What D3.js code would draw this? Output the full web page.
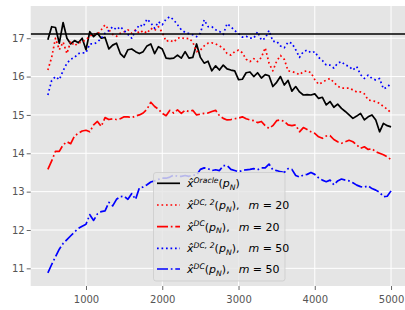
<!DOCTYPE html>
<html><head><meta charset="utf-8">
<script src="https://cdn.jsdelivr.net/npm/d3@7"></script>
<style>
html,body{margin:0;padding:0;background:#fff;}
svg{display:block;font-family:"DejaVu Sans",sans-serif;}
</style></head>
<body><svg id="chart" width="405" height="310"></svg>
<script>
const xs = [500,550,600,650,700,750,800,850,900,950,
 1000,1050,1100,1150,1200,1250,1300,1350,1400,1450,
 1500,1550,1600,1650,1700,1750,1800,1850,1900,1950,
 2000,2050,2100,2150,2200,2250,2300,2350,2400,2450,
 2500,2550,2600,2650,2700,2750,2800,2850,2900,2950,
 3000,3050,3100,3150,3200,3250,3300,3350,3400,3450,
 3500,3550,3600,3650,3700,3750,3800,3850,3900,3950,
 4000,4050,4100,4150,4200,4250,4300,4350,4400,4450,
 4500,4550,4600,4650,4700,4750,4800,4850,4900,4950,5000];

const oracle = [16.96,17.3,17.28,16.87,17.41,17.0,16.85,16.94,16.88,17.0,
 16.7,17.17,17.04,17.13,17.0,17.02,16.72,16.82,16.87,16.6,
 16.5,16.7,16.72,16.65,16.6,16.65,16.8,16.85,16.6,16.78,
 16.72,16.48,16.47,16.48,16.56,16.48,16.65,16.48,16.5,16.85,
 16.5,16.35,16.4,16.15,16.28,16.17,16.3,16.2,16.17,16.15,
 15.92,15.93,16.1,16.12,16.0,16.1,15.96,16.05,16.02,15.74,
 15.85,16.0,15.78,15.9,15.62,15.74,15.6,15.52,15.53,15.52,
 15.55,15.43,15.46,15.26,15.35,15.2,15.28,15.17,15.09,15.0,
 14.91,14.97,15.04,14.87,14.95,15.0,14.87,14.56,14.78,14.72,14.69];

const dc2m20 = [16.17,16.5,17.0,16.7,16.9,16.6,16.92,16.8,16.88,16.9,
 16.96,17.05,17.12,17.1,17.22,17.35,17.22,17.1,17.05,17.13,
 17.17,17.22,17.13,17.22,17.13,17.2,17.13,17.26,17.2,17.3,
 17.15,16.92,16.95,16.9,17.0,17.02,16.98,17.0,16.9,16.65,
 16.69,16.8,16.87,16.88,16.85,16.8,16.74,16.6,16.56,16.65,
 16.69,16.62,16.45,16.39,16.47,16.39,16.5,16.75,16.35,16.15,
 16.4,16.55,16.45,16.15,16.13,16.1,16.05,16.13,16.15,16.1,
 15.92,15.8,15.85,15.91,15.95,15.85,15.75,15.7,15.7,15.7,
 15.65,15.6,15.6,15.55,15.39,15.37,15.35,15.3,15.22,15.15,15.05];

const dcm20 = [13.58,13.8,14.05,14.05,14.22,14.3,14.25,14.45,14.52,14.58,
 14.6,14.56,14.74,14.83,14.7,14.93,14.88,14.9,14.88,14.9,
 14.95,14.95,14.93,14.97,15.0,15.05,15.15,15.33,15.22,15.15,
 15.04,14.98,15.12,15.05,15.13,15.04,15.12,15.09,15.12,15.0,
 15.02,15.04,15.05,15.09,15.12,14.98,14.91,14.87,14.88,14.9,
 14.92,14.95,14.9,14.87,14.85,14.8,14.83,14.72,14.65,14.72,
 14.85,14.87,14.83,14.74,14.72,14.74,14.56,14.67,14.62,14.56,
 14.52,14.43,14.39,14.45,14.46,14.36,14.3,14.26,14.3,14.34,
 14.3,14.22,14.13,14.17,14.1,14.12,14.04,14.0,13.96,13.91,13.83];

const dc2m50 = [15.52,15.9,16.0,15.92,16.15,16.35,16.45,16.5,16.6,16.62,
 16.62,16.85,16.85,16.9,17.0,17.13,17.2,17.3,17.22,17.3,
 17.2,17.1,17.0,17.2,17.35,17.3,17.5,17.4,17.26,17.43,
 17.35,17.5,17.56,17.48,17.35,17.22,17.15,17.12,17.09,17.04,
 17.13,17.48,17.3,17.3,17.22,17.18,17.1,17.38,17.3,17.2,
 17.12,17.03,17.05,17.0,17.0,17.17,16.95,17.0,17.2,16.92,
 16.92,16.8,16.75,16.9,16.87,16.7,16.5,16.65,16.69,16.62,
 16.65,16.5,16.42,16.3,16.3,16.22,16.35,16.39,16.3,16.27,
 16.17,16.26,16.05,15.95,16.04,15.95,15.91,15.95,15.68,15.72,15.83];

const dcm50 = [10.88,11.1,11.3,11.5,11.65,11.75,11.85,11.95,12.04,12.1,
 12.15,12.4,12.25,12.42,12.48,12.5,12.72,12.63,12.8,12.87,
 12.88,12.8,12.95,12.8,13.1,13.12,13.18,13.25,13.28,13.32,
 13.35,13.35,13.38,13.43,13.4,13.4,13.42,13.4,13.43,13.43,
 13.58,13.62,13.6,13.55,13.57,13.55,13.68,13.68,13.58,13.55,
 13.52,13.55,13.57,13.58,13.6,13.57,13.62,13.62,13.72,13.57,
 13.55,13.52,13.5,13.6,13.58,13.42,13.38,13.43,13.45,13.5,
 13.45,13.36,13.3,13.26,13.3,13.18,13.28,13.33,13.3,13.28,
 13.23,13.17,13.13,13.12,13.15,13.08,13.04,12.98,12.87,12.88,13.02];

const oracleLevel = 17.11;
const xTicks = [1000,2000,3000,4000,5000];
const yTicks = [11,12,13,14,15,16,17];
const seriesNames = ["oracle","dc2m20","dcm20","dc2m50","dcm50"];

const svg = d3.select("#chart");
const L = 30.7, R = 408.2, T = 6, B = 286;
const x = d3.scaleLinear().domain([275, 5225]).range([L, R]);
const y = d3.scaleLinear().domain([10.54, 17.84]).range([B, T]);

svg.append("defs").append("clipPath").attr("id","clip")
  .append("rect").attr("x",L).attr("y",T).attr("width",R-L).attr("height",B-T);

svg.append("rect").attr("x",L).attr("y",T).attr("width",R-L).attr("height",B-T).attr("fill","#e5e5e5");

// grid
const grid = svg.append("g");
grid.selectAll(".gx").data(xTicks).enter().append("line")
  .attr("x1",d=>x(d)).attr("x2",d=>x(d)).attr("y1",T).attr("y2",B)
  .attr("stroke","#fff").attr("stroke-width",1);
grid.selectAll(".gy").data(yTicks).enter().append("line")
  .attr("y1",d=>y(d)).attr("y2",d=>y(d)).attr("x1",L).attr("x2",R)
  .attr("stroke","#fff").attr("stroke-width",1);

// axes
const ax = svg.append("g").attr("transform",`translate(0,${B})`)
  .call(d3.axisBottom(x).tickValues(xTicks).tickSize(4).tickPadding(5.5).tickFormat(d3.format("d")));
const ay = svg.append("g").attr("transform",`translate(${L},0)`)
  .call(d3.axisLeft(y).tickValues(yTicks).tickSize(4).tickPadding(2).tickFormat(d3.format("d")));
[ax, ay].forEach(a => {
  a.select(".domain").remove();
  a.selectAll(".tick line").attr("stroke","#555").attr("stroke-width",0.9);
  a.selectAll(".tick text").attr("fill","#555").attr("font-size","10px")
    .attr("font-family","DejaVu Sans");
});

const styles = {
  oracle: {color:"#000", dash:null},
  dc2m20: {color:"#ff0000", dash:"1.7,2.8"},
  dcm20:  {color:"#ff0000", dash:"11,2.8,1.7,2.8"},
  dc2m50: {color:"#0000ff", dash:"1.7,2.8"},
  dcm50:  {color:"#0000ff", dash:"11,2.8,1.7,2.8"}
};
const data = {oracle, dc2m20, dcm20, dc2m50, dcm50};
const line = d3.line().x(d=>x(d[0])).y(d=>y(d[1]));
const plot = svg.append("g").attr("clip-path","url(#clip)");
seriesNames.forEach(k => {
  const s = styles[k];
  plot.append("path").datum(xs.map((v,i)=>[v,data[k][i]]))
    .attr("d",line).attr("fill","none").attr("stroke",s.color)
    .attr("stroke-width",1.7).attr("stroke-dasharray",s.dash)
    .attr("stroke-linejoin","round");
});
plot.append("line").attr("x1",L).attr("x2",R).attr("y1",y(oracleLevel)).attr("y2",y(oracleLevel))
  .attr("stroke","#000").attr("stroke-width",1.7);

// legend
const lg = svg.append("g");
lg.append("rect").attr("x",153.5).attr("y",172.5).attr("width",131.5).attr("height",108.5)
  .attr("rx",2.5).attr("fill","#e5e5e5").attr("fill-opacity",0.8)
  .attr("stroke","#cccccc").attr("stroke-opacity",0.8).attr("stroke-width",1);

const labels = [
  {sup:"Oracle", m:null},
  {sup:"DC, 2", m:"20"},
  {sup:"DC", m:"20"},
  {sup:"DC, 2", m:"50"},
  {sup:"DC", m:"50"}
];
const rowY = [183.3, 205, 226.7, 248.3, 269];
const FS = 11;
seriesNames.forEach((k,i) => {
  const s = styles[k];
  lg.append("line").attr("x1",157).attr("x2",180).attr("y1",rowY[i]).attr("y2",rowY[i])
    .attr("stroke",s.color).attr("stroke-width",1.7).attr("stroke-dasharray",s.dash);
  const t = lg.append("text").attr("x",187).attr("y",rowY[i]+4).attr("font-size",FS+"px")
    .attr("fill","#000").attr("font-family","DejaVu Sans");
  t.append("tspan").attr("font-style","italic").text("x\u0302");
  t.append("tspan").attr("font-style","italic").attr("font-size",(FS*0.7)+"px").attr("dy",-4.5).text(labels[i].sup);
  t.append("tspan").attr("dy",4.5).text("(");
  t.append("tspan").attr("font-style","italic").text("p");
  t.append("tspan").attr("font-style","italic").attr("font-size",(FS*0.7)+"px").attr("dy",2.5).text("N");
  t.append("tspan").attr("dy",-2.5).text(")");
  if (labels[i].m) {
    t.append("tspan").text(",\u2002 ");
    t.append("tspan").attr("font-style","italic").text("m");
    t.append("tspan").text(" = " + labels[i].m);
  }
});
</script>
</body></html>
